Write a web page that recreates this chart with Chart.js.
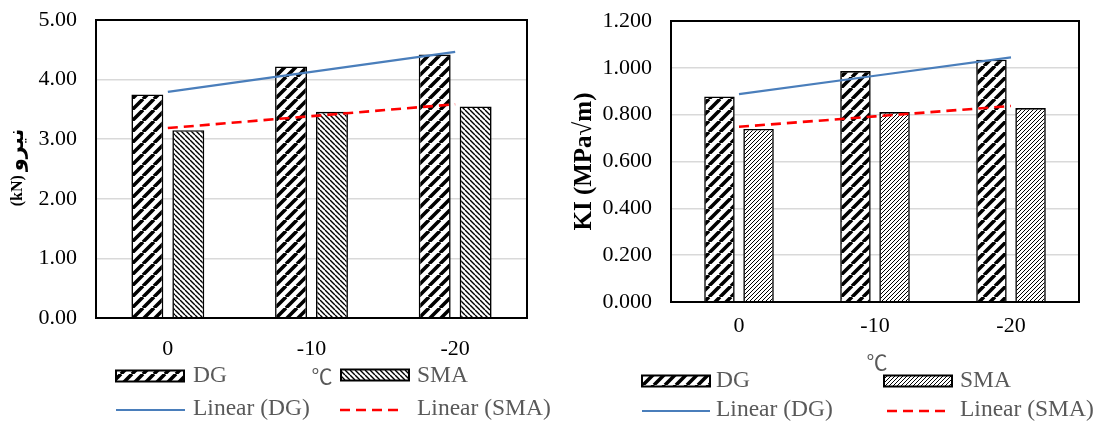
<!DOCTYPE html>
<html>
<head>
<meta charset="utf-8">
<script src="https://cdn.jsdelivr.net/npm/chart.js@4.4.1/dist/chart.umd.min.js"></script>
<style>
  html, body { margin: 0; padding: 0; background: #fff; }
  #wrap { position: relative; width: 1103px; height: 426px; overflow: hidden; }
  canvas { position: absolute; top: 0; }
</style>
</head>
<body>
<div id="wrap">
  <canvas id="force" width="555" height="426" style="left:0"></canvas>
  <canvas id="ki" width="548" height="426" style="left:555px"></canvas>
</div>
<script>
// ── Data ───────────────────────────────────────────────────────────────
const temps    = ['0', '-10', '-20'];
const forceDG  = [3.75, 4.22, 4.42];
const forceSMA = [3.15, 3.46, 3.55];
const kiDG     = [0.878, 0.986, 1.035];
const kiSMA    = [0.739, 0.811, 0.828];

const forceAxis = { min: 0, max: 5,   step: 1,   digits: 2 };
const kiAxis    = { min: 0, max: 1.2, step: 0.2, digits: 3 };

const SERIF = "'Liberation Serif', 'Times New Roman', serif";
const GREY  = '#595959';
const BLUE  = '#4A7EBB';
const RED   = '#FF0000';

Chart.defaults.font.family = SERIF;
Chart.defaults.color = '#000';

// Excel-style "Linear" trendline: least squares over category index.
function linearFit(vals) {
  const n = vals.length;
  const mx = (n - 1) / 2;
  const my = vals.reduce((a, b) => a + b, 0) / n;
  let num = 0, den = 0;
  vals.forEach((v, i) => { num += (i - mx) * (v - my); den += (i - mx) ** 2; });
  const b = num / den;
  return vals.map((_, i) => my + b * (i - mx));
}

// Hatch fills.
function hatch(ctx, size, width, dir) {
  const c = document.createElement('canvas');
  c.width = c.height = size;
  const g = c.getContext('2d');
  g.fillStyle = '#fff';
  g.fillRect(0, 0, size, size);
  g.strokeStyle = '#000';
  g.lineWidth = width;
  g.beginPath();
  for (let k = -1; k <= 1; k++) {
    if (dir === 'up') { g.moveTo(k * size, size); g.lineTo(k * size + size, 0); }
    else              { g.moveTo(k * size, 0);    g.lineTo(k * size + size, size); }
  }
  g.stroke();
  return ctx.createPattern(c, 'repeat');
}

// Plot frame, legend block, unit label and (optionally) a hand-set y title.
const sheetDecor = {
  id: 'sheetDecor',
  afterDraw(chart, args, o) {
    const ctx = chart.ctx;
    const a = chart.chartArea;
    ctx.save();
    ctx.strokeStyle = '#000';
    ctx.lineWidth = 2;
    ctx.strokeRect(a.left, a.top, a.right - a.left, a.bottom - a.top);

    ctx.textBaseline = 'middle';
    ctx.textAlign = 'left';
    o.items.forEach(it => {
      const ds = chart.data.datasets[it.ds];
      if (it.kind === 'box') {
        ctx.fillStyle = ds.backgroundColor;
        ctx.fillRect(it.x, it.y - 5.5, it.w, 11);
        ctx.lineWidth = 2;
        ctx.strokeStyle = '#000';
        ctx.strokeRect(it.x, it.y - 5.5, it.w, 11);
      } else {
        ctx.beginPath();
        ctx.lineWidth = ds.borderWidth;
        ctx.strokeStyle = ds.borderColor;
        ctx.setLineDash(ds.borderDash || []);
        ctx.moveTo(it.x, it.y);
        ctx.lineTo(it.x + it.w, it.y);
        ctx.stroke();
        ctx.setLineDash([]);
      }
      ctx.fillStyle = GREY;
      ctx.font = '23.5px ' + SERIF;
      ctx.fillText(ds.label, it.tx, it.ty);
    });

    ctx.textAlign = 'center';
    ctx.fillStyle = GREY;
    ctx.font = "21px 'Noto Sans CJK SC', " + SERIF;
    ctx.fillText('℃', o.unit.x, o.unit.y);

    if (o.ytitle) {
      const t = o.ytitle;
      ctx.translate(t.x, (a.top + a.bottom) / 2 + t.dy);
      ctx.rotate(-Math.PI / 2);
      ctx.fillStyle = '#000';
      ctx.textAlign = 'left';
      ctx.font = 'bold 16px ' + SERIF;
      const w1 = ctx.measureText(t.unit).width;
      ctx.font = "bold 21px 'DejaVu Sans', sans-serif";
      const w2 = ctx.measureText(t.word).width;
      const total = w1 + 4 + w2;
      ctx.font = 'bold 16px ' + SERIF;
      ctx.fillText(t.unit, -total / 2, 0);
      ctx.font = "bold 21px 'DejaVu Sans', sans-serif";
      ctx.fillText(t.word, -total / 2 + w1 + 4, 0);
    }
    ctx.restore();
  }
};

function panel(id, dg, sma, axis, cfg) {
  const canvas = document.getElementById(id);
  const ctx = canvas.getContext('2d');
  return new Chart(ctx, {
    type: 'bar',
    data: {
      labels: temps,
      datasets: [
        { type: 'line', label: 'Linear (DG)', data: linearFit(dg), borderColor: BLUE,
          borderWidth: 2.2, pointRadius: 0, tension: 0, fill: false, order: 0 },
        { type: 'line', label: 'Linear (SMA)', data: linearFit(sma), borderColor: RED,
          borderWidth: 2.6, borderDash: [10, 6], pointRadius: 0, tension: 0, fill: false, order: 0 },
        { label: 'DG', data: dg, backgroundColor: hatch(ctx, 11, 3.6, 'up'),
          borderColor: '#000', borderWidth: 1.6, order: 1 },
        { label: 'SMA', data: sma, backgroundColor: cfg.smaFill(ctx),
          borderColor: '#000', borderWidth: 1.6, order: 1 },
      ],
    },
    options: {
      responsive: false,
      animation: false,
      layout: { padding: cfg.padding },
      datasets: { bar: { categoryPercentage: cfg.catPct, barPercentage: 0.78 } },
      plugins: {
        legend: { display: false },
        tooltip: { enabled: false },
        sheetDecor: cfg.decor,
      },
      scales: {
        x: {
          grid: { display: false },
          border: { display: false },
          ticks: { font: { size: 22 }, color: '#000', padding: cfg.xPad },
          afterFit: s => { s.height = cfg.xHeight; },
        },
        y: {
          min: axis.min, max: axis.max,
          grid: { color: '#d9d9d9', lineWidth: 1.5, drawTicks: false },
          border: { display: false },
          ticks: {
            stepSize: axis.step, padding: 19, color: '#000',
            font: { size: 22 },
            callback: v => Number(v).toFixed(axis.digits),
          },
          title: cfg.yTitle,
          afterFit: s => { s.width = cfg.yWidth; s.paddingTop = 0; s.paddingBottom = 0; },
        },
      },
    },
    plugins: [sheetDecor],
  });
}

panel('force', forceDG, forceSMA, forceAxis, {
  padding: { top: 20, right: 28, left: 0, bottom: 0 },
  catPct: 0.57, xPad: 10, xHeight: 108, yWidth: 96,
  smaFill: ctx => hatch(ctx, 5, 1.4, 'down'),
  yTitle: { display: false },
  decor: {
    items: [
      { ds: 2, kind: 'box',  x: 116, y: 376, w: 68, tx: 193, ty: 376 },
      { ds: 3, kind: 'box',  x: 341, y: 375, w: 68, tx: 417, ty: 376 },
      { ds: 0, kind: 'line', x: 116, y: 410, w: 69, tx: 193, ty: 409 },
      { ds: 1, kind: 'line', x: 340, y: 410, w: 62, tx: 417, ty: 409 },
    ],
    unit: { x: 322, y: 376 },
    ytitle: { x: 17.5, dy: -1.5, unit: '(kN)', word: 'نیرو' },
  },
});

panel('ki', kiDG, kiSMA, kiAxis, {
  padding: { top: 21, right: 24, left: 0, bottom: 0 },
  catPct: 0.575, xPad: 3, xHeight: 124, yWidth: 116,
  smaFill: ctx => hatch(ctx, 4, 1.0, 'up'),
  yTitle: {
    display: true, text: 'KI (MPa√m)', color: '#000',
    font: { size: 25, weight: 'bold', lineHeight: 1 },
    padding: { top: 17.5, bottom: 0 },
  },
  decor: {
    items: [
      { ds: 2, kind: 'box',  x: 87,  y: 381, w: 68, tx: 161, ty: 381 },
      { ds: 3, kind: 'box',  x: 329, y: 381, w: 68, tx: 405, ty: 381 },
      { ds: 0, kind: 'line', x: 87,  y: 411, w: 68, tx: 161, ty: 410 },
      { ds: 1, kind: 'line', x: 332, y: 411, w: 62, tx: 405, ty: 410 },
    ],
    unit: { x: 322, y: 362 },
  },
});
</script>
</body>
</html>
